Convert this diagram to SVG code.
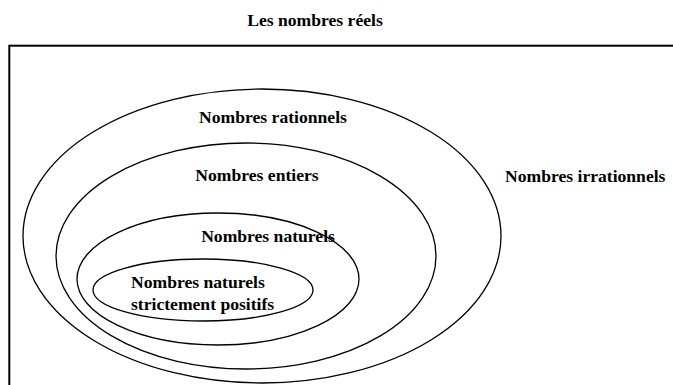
<svg xmlns="http://www.w3.org/2000/svg" width="673" height="385" viewBox="0 0 673 385">
<style>
.t{font-family:"Liberation Serif","Times New Roman",serif;font-weight:bold;font-size:17.6px;fill:#000}
.e{fill:none;stroke:#000;stroke-width:1.3}
</style>
<rect width="673" height="385" fill="#fff"/>
<text class="t" x="315" y="26" text-anchor="middle">Les nombres réels</text>
<g id="reels">
<rect x="9.3" y="45.7" width="720" height="400" fill="none" stroke="#000" stroke-width="2"/>
</g>
<g id="irrationnels">
<text class="t" x="505" y="182">Nombres irrationnels</text>
</g>
<g id="rationnels">
<ellipse class="e" cx="262" cy="236" rx="239" ry="147"/>
<text class="t" x="273" y="123" text-anchor="middle">Nombres rationnels</text>
</g>
<g id="entiers">
<ellipse class="e" cx="246" cy="256" rx="190" ry="113"/>
<text class="t" x="257" y="181" text-anchor="middle">Nombres entiers</text>
</g>
<g id="naturels">
<ellipse class="e" cx="218" cy="279" rx="141" ry="66"/>
<text class="t" x="268" y="242" text-anchor="middle">Nombres naturels</text>
</g>
<g id="positifs">
<ellipse class="e" cx="203" cy="290" rx="110" ry="31"/>
<text class="t" x="131" y="288">Nombres naturels</text>
<text class="t" x="131" y="310">strictement positifs</text>
</g>
<g id="connectors"/>
</svg>
